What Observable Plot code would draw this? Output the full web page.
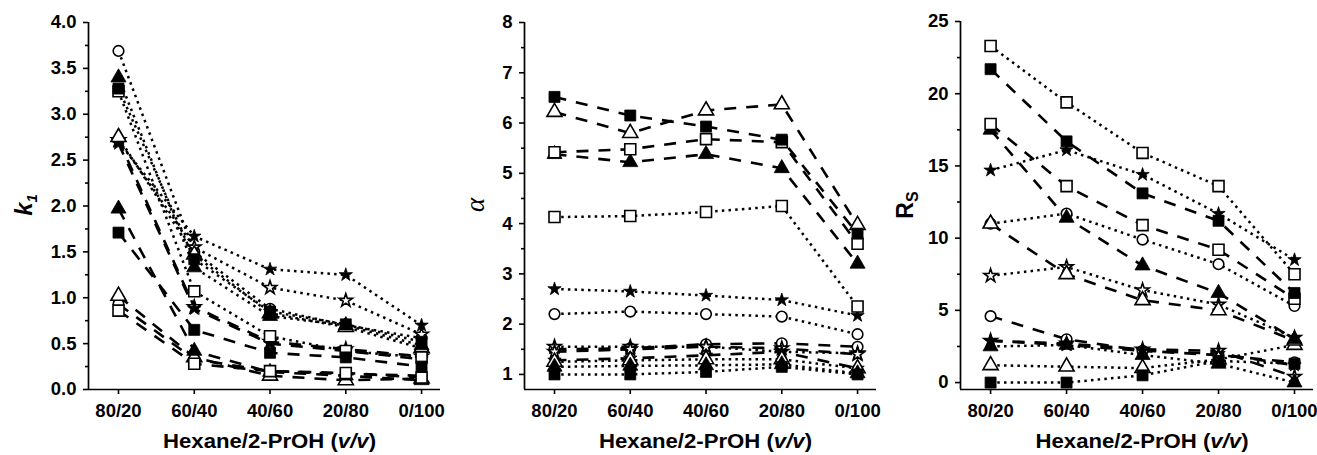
<!DOCTYPE html>
<html><head><meta charset="utf-8">
<script src="https://cdn.jsdelivr.net/npm/d3@7"></script>
<script src="https://cdn.jsdelivr.net/npm/@observablehq/plot@0.6"></script>
<style>
html,body{margin:0;padding:0;background:#fff}
body{width:1317px;height:455px;position:relative;overflow:hidden;font-family:"Liberation Sans",Arial,sans-serif}
.panel{position:absolute;top:0}
</style></head><body>
<div id="p1" class="panel" style="left:0px"></div>
<div id="p2" class="panel" style="left:445px"></div>
<div id="p3" class="panel" style="left:882px"></div>
<script>
// x categories (Hexane/2-PrOH, v/v)
const ratios = ["80/20", "60/40", "40/60", "20/80", "0/100"];

// 14 series: 7 markers, dotted (first 7) and dashed (last 7)
const seriesSymbol = ["square","square","triangle","triangle","star","star","circle",
                      "square","square","triangle","triangle","star","star","circle"];
const seriesFilled = [true,false,true,false,true,false,false,
                      true,false,true,false,true,false,false];
const seriesLine = ["dotted","dotted","dotted","dotted","dotted","dotted","dotted",
                    "dashed","dashed","dashed","dashed","dashed","dashed","dashed"];

// k1 values (one row per series, 5 ratios)
const k1Values = [
  [3.28, 1.42, 0.85, 0.71, 0.52],
  [3.25, 1.07, 0.58, 0.42, 0.35],
  [3.40, 1.33, 0.80, 0.70, 0.48],
  [2.75, 1.47, 0.83, 0.68, 0.45],
  [2.70, 1.67, 1.31, 1.25, 0.70],
  [2.72, 1.55, 1.11, 0.97, 0.60],
  [3.69, 1.50, 0.88, 0.70, 0.56],
  [1.71, 0.65, 0.40, 0.35, 0.25],
  [0.86, 0.28, 0.20, 0.18, 0.13],
  [1.97, 0.42, 0.19, 0.15, 0.10],
  [1.02, 0.35, 0.15, 0.10, 0.12],
  [2.68, 0.88, 0.50, 0.42, 0.33],
  [2.72, 0.90, 0.52, 0.44, 0.36],
  [0.93, 0.33, 0.20, 0.17, 0.15]
];

// alpha values
const alphaValues = [
  [1.00, 1.00, 1.05, 1.15, 1.00],
  [4.13, 4.15, 4.23, 4.35, 2.35],
  [1.15, 1.17, 1.18, 1.20, 1.02],
  [1.25, 1.28, 1.30, 1.30, 1.12],
  [2.70, 2.65, 2.57, 2.48, 2.17],
  [1.55, 1.55, 1.55, 1.45, 1.42],
  [2.20, 2.25, 2.20, 2.15, 1.80],
  [6.52, 6.15, 5.93, 5.67, 3.80],
  [5.42, 5.48, 5.68, 5.62, 3.60],
  [5.38, 5.22, 5.38, 5.10, 3.20],
  [6.22, 5.80, 6.25, 6.37, 3.97],
  [1.28, 1.32, 1.38, 1.45, 1.12],
  [1.45, 1.50, 1.55, 1.52, 1.40],
  [1.50, 1.52, 1.60, 1.62, 1.55]
];

// Rs values
const rsValues = [
  [0.0, 0.0, 0.5, 1.5, 1.3],
  [23.3, 19.4, 15.9, 13.6, 7.5],
  [2.5, 2.6, 1.9, 1.3, 0.0],
  [1.2, 1.1, 1.0, 1.6, 2.6],
  [14.7, 16.1, 14.4, 11.7, 8.5],
  [7.4, 8.0, 6.4, 5.4, 3.1],
  [11.0, 11.7, 9.9, 8.2, 5.3],
  [21.7, 16.7, 13.1, 11.2, 6.2],
  [17.9, 13.6, 10.9, 9.2, 5.8],
  [17.5, 11.4, 8.1, 6.2, 3.0],
  [11.0, 7.5, 5.7, 5.0, 2.9],
  [2.9, 2.6, 2.2, 2.0, 1.2],
  [2.9, 2.7, 2.3, 2.2, 0.4],
  [4.6, 3.0, 2.2, 1.9, 1.4]
];

// tick values
const k1Ticks = [0, 0.5, 1, 1.5, 2, 2.5, 3, 3.5, 4];
const k1Minor = [0.25, 0.75, 1.25, 1.75, 2.25, 2.75, 3.25, 3.75];
const alphaTicks = [1, 2, 3, 4, 5, 6, 7, 8];
const alphaMinor = [1.5, 2.5, 3.5, 4.5, 5.5, 6.5, 7.5];
const rsTicks = [0, 5, 10, 15, 20, 25];
const rsMinor = [2.5, 7.5, 12.5, 17.5, 22.5];

const symbolR = {square: 6.2, triangle: 5.6, star: 4.2, circle: 5.3};
const FONT = "'Liberation Sans', Arial, sans-serif";

function rowsFor(values) {
  const rows = [];
  values.forEach((vals, s) => vals.forEach((v, i) => rows.push({
    series: s, i, value: v, symbol: seriesSymbol[s], filled: seriesFilled[s], line: seriesLine[s]
  })));
  return rows;
}

function panel(cfg) {
  const rows = rowsFor(cfg.values);
  const xDomain = [-0.396, 4.25];
  const marks = [
    Plot.line(rows.filter(d => d.line === "dotted"), {x: "i", y: "value", z: "series", stroke: "black",
      strokeWidth: 2.5, strokeDasharray: "2.5,4.2", strokeLinecap: "butt"}),
    Plot.line(rows.filter(d => d.line === "dashed"), {x: "i", y: "value", z: "series", stroke: "black",
      strokeWidth: 2.6, strokeDasharray: "12,10", strokeLinecap: "butt"})
  ];
  for (const sym of ["circle", "star", "triangle", "square"]) {
    for (const filled of [false, true]) {
      const sub = rows.filter(d => d.symbol === sym && d.filled === filled);
      if (!sub.length) continue;
      marks.push(Plot.dot(sub, {x: "i", y: "value", symbol: () => sym, r: symbolR[sym],
        fill: filled ? "black" : "white", stroke: "black", strokeWidth: filled ? 0.8 : 1.6}));
    }
  }
  marks.push(
    Plot.axisY(cfg.ticks, {tickSize: 5, tickPadding: 7, tickFormat: cfg.fmt, label: null,
      fontSize: 18.5, fontWeight: "bold", strokeWidth: 1.6}),
    Plot.axisY(cfg.minor, {tickSize: 3, tickFormat: () => "", label: null, strokeWidth: 1.6}),
    Plot.axisX([0, 1, 2, 3, 4], {tickSize: 5, tickPadding: 9, tickFormat: i => ratios[i], label: null,
      fontSize: 18.5, fontWeight: "bold", strokeWidth: 1.6}),
    Plot.ruleX([xDomain[0]], {stroke: "black", strokeWidth: 1.7}),
    Plot.ruleY([cfg.yDomain[0]], {stroke: "black", strokeWidth: 1.7})
  );
  const svg = Plot.plot({
    width: cfg.width, height: 455,
    marginLeft: cfg.ml, marginRight: cfg.mr, marginTop: cfg.mt, marginBottom: 66,
    style: {fontFamily: FONT, background: "white", color: "black", overflow: "visible"},
    x: {type: "linear", domain: xDomain},
    y: {domain: cfg.yDomain},
    symbol: {type: "identity"},
    marks
  });
  const sel = d3.select(svg);
  // x title
  const xs = cfg.ml + (cfg.width - cfg.ml - cfg.mr) * (2 - xDomain[0]) / (xDomain[1] - xDomain[0]);
  const t = sel.append("text").attr("x", xs).attr("y", 448).attr("text-anchor", "middle")
    .attr("textLength", 213).attr("lengthAdjust", "spacingAndGlyphs")
    .style("font-family", FONT).style("font-size", "20px").style("font-weight", "bold").attr("fill", "black");
  t.append("tspan").text("Hexane/2-PrOH (");
  t.append("tspan").style("font-style", "italic").text("v/v");
  t.append("tspan").text(")");
  // y title
  const g = sel.append("g").attr("transform", `translate(${cfg.yt},205) rotate(-90)`);
  cfg.ytitle(g);
  document.getElementById(cfg.id).appendChild(svg);
}

panel({id: "p1", values: k1Values, width: 445, ml: 88, mr: 5, mt: 22, yDomain: [0, 4],
  ticks: k1Ticks, minor: k1Minor, fmt: d => d.toFixed(1), yt: 32,
  ytitle: g => {
    const tx = g.append("text").attr("text-anchor", "middle").attr("fill", "black")
      .style("font-family", FONT).style("font-weight", "bold").style("font-style", "italic").style("font-size", "24px");
    tx.append("tspan").text("k");
    tx.append("tspan").attr("dy", 5).style("font-size", "15px").text("1");
  }});

panel({id: "p2", values: alphaValues, width: 437, ml: 79, mr: 6, mt: 22, yDomain: [0.7, 8],
  ticks: alphaTicks, minor: alphaMinor, fmt: d => String(d), yt: 39,
  ytitle: g => {
    g.append("text").attr("text-anchor", "middle").attr("fill", "black")
      .style("font-family", "'Liberation Serif', 'DejaVu Serif', serif").style("font-style", "italic")
      .style("font-size", "27px").text("α");
  }});

panel({id: "p3", values: rsValues, width: 435, ml: 78, mr: 4, mt: 21, yDomain: [-0.48, 25],
  ticks: rsTicks, minor: rsMinor, fmt: d => String(d), yt: 31,
  ytitle: g => {
    const tx = g.append("text").attr("text-anchor", "middle").attr("fill", "black")
      .style("font-family", FONT).style("font-weight", "bold").style("font-size", "23px");
    tx.append("tspan").text("R");
    tx.append("tspan").attr("dy", 5).style("font-size", "16px").text("S");
  }});
</script>
</body></html>
